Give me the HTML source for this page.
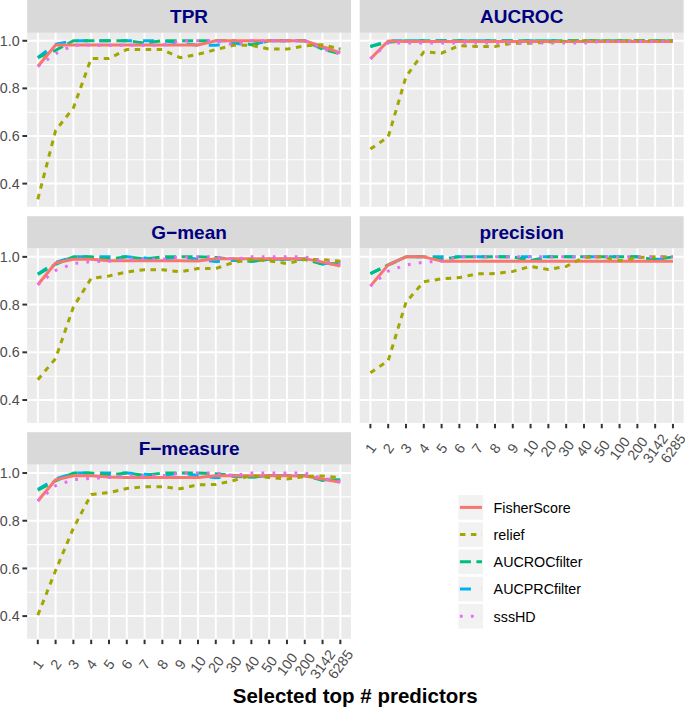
<!DOCTYPE html><html><head><meta charset="utf-8"><style>html,body{margin:0;padding:0;background:#fff;}svg{display:block;}text{font-family:"Liberation Sans",sans-serif;}</style></head><body>
<svg width="685" height="707" viewBox="0 0 685 707">
<rect x="0" y="0" width="685" height="707" fill="#fff"/>
<rect x="27.12" y="0.00" width="323.91" height="32.85" fill="#D9D9D9"/>
<text x="189.07" y="23.45" text-anchor="middle" font-weight="bold" font-size="19" fill="#000080">TPR</text>
<rect x="27.12" y="32.85" width="323.91" height="173.95" fill="#EBEBEB"/>
<line x1="27.12" x2="351.03" y1="159.79" y2="159.79" stroke="#fff" stroke-width="1.1"/>
<line x1="27.12" x2="351.03" y1="112.19" y2="112.19" stroke="#fff" stroke-width="1.1"/>
<line x1="27.12" x2="351.03" y1="64.57" y2="64.57" stroke="#fff" stroke-width="1.1"/>
<line x1="27.12" x2="351.03" y1="183.60" y2="183.60" stroke="#fff" stroke-width="2"/>
<line x1="27.12" x2="351.03" y1="135.99" y2="135.99" stroke="#fff" stroke-width="2"/>
<line x1="27.12" x2="351.03" y1="88.38" y2="88.38" stroke="#fff" stroke-width="2"/>
<line x1="27.12" x2="351.03" y1="40.77" y2="40.77" stroke="#fff" stroke-width="2"/>
<line x1="37.80" x2="37.80" y1="32.85" y2="206.80" stroke="#fff" stroke-width="1.9"/>
<line x1="55.60" x2="55.60" y1="32.85" y2="206.80" stroke="#fff" stroke-width="1.9"/>
<line x1="73.39" x2="73.39" y1="32.85" y2="206.80" stroke="#fff" stroke-width="1.9"/>
<line x1="91.19" x2="91.19" y1="32.85" y2="206.80" stroke="#fff" stroke-width="1.9"/>
<line x1="108.99" x2="108.99" y1="32.85" y2="206.80" stroke="#fff" stroke-width="1.9"/>
<line x1="126.78" x2="126.78" y1="32.85" y2="206.80" stroke="#fff" stroke-width="1.9"/>
<line x1="144.58" x2="144.58" y1="32.85" y2="206.80" stroke="#fff" stroke-width="1.9"/>
<line x1="162.38" x2="162.38" y1="32.85" y2="206.80" stroke="#fff" stroke-width="1.9"/>
<line x1="180.18" x2="180.18" y1="32.85" y2="206.80" stroke="#fff" stroke-width="1.9"/>
<line x1="197.97" x2="197.97" y1="32.85" y2="206.80" stroke="#fff" stroke-width="1.9"/>
<line x1="215.77" x2="215.77" y1="32.85" y2="206.80" stroke="#fff" stroke-width="1.9"/>
<line x1="233.57" x2="233.57" y1="32.85" y2="206.80" stroke="#fff" stroke-width="1.9"/>
<line x1="251.37" x2="251.37" y1="32.85" y2="206.80" stroke="#fff" stroke-width="1.9"/>
<line x1="269.16" x2="269.16" y1="32.85" y2="206.80" stroke="#fff" stroke-width="1.9"/>
<line x1="286.96" x2="286.96" y1="32.85" y2="206.80" stroke="#fff" stroke-width="1.9"/>
<line x1="304.76" x2="304.76" y1="32.85" y2="206.80" stroke="#fff" stroke-width="1.9"/>
<line x1="322.55" x2="322.55" y1="32.85" y2="206.80" stroke="#fff" stroke-width="1.9"/>
<line x1="340.35" x2="340.35" y1="32.85" y2="206.80" stroke="#fff" stroke-width="1.9"/>
<g fill="none" stroke-width="3.0" stroke-linejoin="round" stroke-linecap="butt">
<polyline points="37.80,57.43 55.60,44.10 73.39,40.77 91.19,40.77 108.99,40.77 126.78,40.77 144.58,40.77 162.38,40.77 180.18,43.15 197.97,45.29 215.77,45.29 233.57,43.15 251.37,44.82 269.16,40.77 286.96,40.77 304.76,40.77 322.55,47.91 340.35,49.10" stroke="#00B0F6" stroke-dasharray="11 11"/>
<polyline points="37.80,57.67 55.60,50.29 73.39,40.77 91.19,40.77 108.99,40.77 126.78,40.77 144.58,43.15 162.38,40.77 180.18,40.77 197.97,40.77 215.77,40.77 233.57,40.77 251.37,44.82 269.16,40.77 286.96,40.77 304.76,40.77 322.55,49.10 340.35,53.86" stroke="#00BF7D" stroke-dasharray="11 5.5"/>
<polyline points="37.80,66.48 55.60,45.05 73.39,45.05 91.19,45.05 108.99,45.05 126.78,45.05 144.58,45.05 162.38,45.05 180.18,45.05 197.97,45.05 215.77,40.77 233.57,40.77 251.37,40.77 269.16,40.77 286.96,40.77 304.76,40.77 322.55,46.72 340.35,52.91" stroke="#F8766D"/>
<polyline points="37.80,199.31 55.60,130.51 73.39,107.90 91.19,58.39 108.99,58.39 126.78,49.58 144.58,49.58 162.38,49.58 180.18,57.67 197.97,54.34 215.77,49.58 233.57,45.29 251.37,45.29 269.16,49.10 286.96,49.10 304.76,45.77 322.55,44.82 340.35,49.10" stroke="#A3A500" stroke-dasharray="5.5 5.5"/>
<polyline points="37.80,66.48 55.60,53.62 73.39,45.29 91.19,45.29 108.99,45.29 126.78,45.29 144.58,45.29 162.38,45.29 180.18,40.77 197.97,40.77 215.77,40.77 233.57,44.82 251.37,40.77 269.16,40.77 286.96,40.77 304.76,40.77 322.55,49.10 340.35,53.39" stroke="#E76BF3" stroke-dasharray="2.75 8.25"/>
</g>
<line x1="22.4" x2="27.12" y1="183.60" y2="183.60" stroke="#333" stroke-width="2"/>
<text x="19.6" y="188.70" text-anchor="end" font-size="14.3" fill="#4D4D4D">0.4</text>
<line x1="22.4" x2="27.12" y1="135.99" y2="135.99" stroke="#333" stroke-width="2"/>
<text x="19.6" y="141.09" text-anchor="end" font-size="14.3" fill="#4D4D4D">0.6</text>
<line x1="22.4" x2="27.12" y1="88.38" y2="88.38" stroke="#333" stroke-width="2"/>
<text x="19.6" y="93.48" text-anchor="end" font-size="14.3" fill="#4D4D4D">0.8</text>
<line x1="22.4" x2="27.12" y1="40.77" y2="40.77" stroke="#333" stroke-width="2"/>
<text x="19.6" y="45.87" text-anchor="end" font-size="14.3" fill="#4D4D4D">1.0</text>
<rect x="359.72" y="0.00" width="323.91" height="32.85" fill="#D9D9D9"/>
<text x="521.67" y="23.45" text-anchor="middle" font-weight="bold" font-size="19" fill="#000080">AUCROC</text>
<rect x="359.72" y="32.85" width="323.91" height="173.95" fill="#EBEBEB"/>
<line x1="359.72" x2="683.63" y1="159.79" y2="159.79" stroke="#fff" stroke-width="1.1"/>
<line x1="359.72" x2="683.63" y1="112.19" y2="112.19" stroke="#fff" stroke-width="1.1"/>
<line x1="359.72" x2="683.63" y1="64.57" y2="64.57" stroke="#fff" stroke-width="1.1"/>
<line x1="359.72" x2="683.63" y1="183.60" y2="183.60" stroke="#fff" stroke-width="2"/>
<line x1="359.72" x2="683.63" y1="135.99" y2="135.99" stroke="#fff" stroke-width="2"/>
<line x1="359.72" x2="683.63" y1="88.38" y2="88.38" stroke="#fff" stroke-width="2"/>
<line x1="359.72" x2="683.63" y1="40.77" y2="40.77" stroke="#fff" stroke-width="2"/>
<line x1="370.40" x2="370.40" y1="32.85" y2="206.80" stroke="#fff" stroke-width="1.9"/>
<line x1="388.20" x2="388.20" y1="32.85" y2="206.80" stroke="#fff" stroke-width="1.9"/>
<line x1="405.99" x2="405.99" y1="32.85" y2="206.80" stroke="#fff" stroke-width="1.9"/>
<line x1="423.79" x2="423.79" y1="32.85" y2="206.80" stroke="#fff" stroke-width="1.9"/>
<line x1="441.59" x2="441.59" y1="32.85" y2="206.80" stroke="#fff" stroke-width="1.9"/>
<line x1="459.38" x2="459.38" y1="32.85" y2="206.80" stroke="#fff" stroke-width="1.9"/>
<line x1="477.18" x2="477.18" y1="32.85" y2="206.80" stroke="#fff" stroke-width="1.9"/>
<line x1="494.98" x2="494.98" y1="32.85" y2="206.80" stroke="#fff" stroke-width="1.9"/>
<line x1="512.78" x2="512.78" y1="32.85" y2="206.80" stroke="#fff" stroke-width="1.9"/>
<line x1="530.57" x2="530.57" y1="32.85" y2="206.80" stroke="#fff" stroke-width="1.9"/>
<line x1="548.37" x2="548.37" y1="32.85" y2="206.80" stroke="#fff" stroke-width="1.9"/>
<line x1="566.17" x2="566.17" y1="32.85" y2="206.80" stroke="#fff" stroke-width="1.9"/>
<line x1="583.97" x2="583.97" y1="32.85" y2="206.80" stroke="#fff" stroke-width="1.9"/>
<line x1="601.76" x2="601.76" y1="32.85" y2="206.80" stroke="#fff" stroke-width="1.9"/>
<line x1="619.56" x2="619.56" y1="32.85" y2="206.80" stroke="#fff" stroke-width="1.9"/>
<line x1="637.36" x2="637.36" y1="32.85" y2="206.80" stroke="#fff" stroke-width="1.9"/>
<line x1="655.15" x2="655.15" y1="32.85" y2="206.80" stroke="#fff" stroke-width="1.9"/>
<line x1="672.95" x2="672.95" y1="32.85" y2="206.80" stroke="#fff" stroke-width="1.9"/>
<g fill="none" stroke-width="3.0" stroke-linejoin="round" stroke-linecap="butt">
<polyline points="370.40,46.48 388.20,40.77 405.99,40.77 423.79,40.77 441.59,40.77 459.38,40.77 477.18,40.77 494.98,40.77 512.78,40.77 530.57,40.77 548.37,40.77 566.17,40.77 583.97,40.77 601.76,40.77 619.56,40.77 637.36,40.77 655.15,40.77 672.95,40.77" stroke="#00B0F6" stroke-dasharray="11 11"/>
<polyline points="370.40,46.48 388.20,42.20 405.99,40.77 423.79,40.77 441.59,40.77 459.38,40.77 477.18,40.77 494.98,40.77 512.78,40.77 530.57,40.77 548.37,40.77 566.17,40.77 583.97,40.77 601.76,40.77 619.56,40.77 637.36,40.77 655.15,40.77 672.95,40.77" stroke="#00BF7D" stroke-dasharray="11 5.5"/>
<polyline points="370.40,58.86 388.20,41.01 405.99,41.48 423.79,41.48 441.59,41.48 459.38,41.48 477.18,41.48 494.98,41.48 512.78,41.48 530.57,41.48 548.37,41.48 566.17,41.48 583.97,41.48 601.76,41.48 619.56,41.48 637.36,41.48 655.15,41.48 672.95,41.48" stroke="#F8766D"/>
<polyline points="370.40,149.08 388.20,136.94 405.99,76.72 423.79,51.96 441.59,53.15 459.38,45.53 477.18,46.48 494.98,46.48 512.78,43.15 530.57,43.15 548.37,41.96 566.17,41.25 583.97,40.77 601.76,40.77 619.56,40.77 637.36,40.77 655.15,40.77 672.95,40.77" stroke="#A3A500" stroke-dasharray="5.5 5.5"/>
<polyline points="370.40,58.86 388.20,42.91 405.99,42.91 423.79,42.91 441.59,42.91 459.38,42.91 477.18,42.91 494.98,42.91 512.78,42.91 530.57,42.91 548.37,42.91 566.17,42.91 583.97,42.91 601.76,41.48 619.56,41.48 637.36,41.48 655.15,41.48 672.95,41.48" stroke="#E76BF3" stroke-dasharray="2.75 8.25"/>
</g>
<rect x="27.12" y="216.20" width="323.91" height="32.34" fill="#D9D9D9"/>
<text x="189.07" y="239.14" text-anchor="middle" font-weight="bold" font-size="19" fill="#000080">G−mean</text>
<rect x="27.12" y="248.54" width="323.91" height="174.36" fill="#EBEBEB"/>
<line x1="27.12" x2="351.03" y1="376.18" y2="376.18" stroke="#fff" stroke-width="1.1"/>
<line x1="27.12" x2="351.03" y1="328.45" y2="328.45" stroke="#fff" stroke-width="1.1"/>
<line x1="27.12" x2="351.03" y1="280.72" y2="280.72" stroke="#fff" stroke-width="1.1"/>
<line x1="27.12" x2="351.03" y1="400.04" y2="400.04" stroke="#fff" stroke-width="2"/>
<line x1="27.12" x2="351.03" y1="352.31" y2="352.31" stroke="#fff" stroke-width="2"/>
<line x1="27.12" x2="351.03" y1="304.59" y2="304.59" stroke="#fff" stroke-width="2"/>
<line x1="27.12" x2="351.03" y1="256.86" y2="256.86" stroke="#fff" stroke-width="2"/>
<line x1="37.80" x2="37.80" y1="248.54" y2="422.90" stroke="#fff" stroke-width="1.9"/>
<line x1="55.60" x2="55.60" y1="248.54" y2="422.90" stroke="#fff" stroke-width="1.9"/>
<line x1="73.39" x2="73.39" y1="248.54" y2="422.90" stroke="#fff" stroke-width="1.9"/>
<line x1="91.19" x2="91.19" y1="248.54" y2="422.90" stroke="#fff" stroke-width="1.9"/>
<line x1="108.99" x2="108.99" y1="248.54" y2="422.90" stroke="#fff" stroke-width="1.9"/>
<line x1="126.78" x2="126.78" y1="248.54" y2="422.90" stroke="#fff" stroke-width="1.9"/>
<line x1="144.58" x2="144.58" y1="248.54" y2="422.90" stroke="#fff" stroke-width="1.9"/>
<line x1="162.38" x2="162.38" y1="248.54" y2="422.90" stroke="#fff" stroke-width="1.9"/>
<line x1="180.18" x2="180.18" y1="248.54" y2="422.90" stroke="#fff" stroke-width="1.9"/>
<line x1="197.97" x2="197.97" y1="248.54" y2="422.90" stroke="#fff" stroke-width="1.9"/>
<line x1="215.77" x2="215.77" y1="248.54" y2="422.90" stroke="#fff" stroke-width="1.9"/>
<line x1="233.57" x2="233.57" y1="248.54" y2="422.90" stroke="#fff" stroke-width="1.9"/>
<line x1="251.37" x2="251.37" y1="248.54" y2="422.90" stroke="#fff" stroke-width="1.9"/>
<line x1="269.16" x2="269.16" y1="248.54" y2="422.90" stroke="#fff" stroke-width="1.9"/>
<line x1="286.96" x2="286.96" y1="248.54" y2="422.90" stroke="#fff" stroke-width="1.9"/>
<line x1="304.76" x2="304.76" y1="248.54" y2="422.90" stroke="#fff" stroke-width="1.9"/>
<line x1="322.55" x2="322.55" y1="248.54" y2="422.90" stroke="#fff" stroke-width="1.9"/>
<line x1="340.35" x2="340.35" y1="248.54" y2="422.90" stroke="#fff" stroke-width="1.9"/>
<g fill="none" stroke-width="3.0" stroke-linejoin="round" stroke-linecap="butt">
<polyline points="37.80,274.04 55.60,262.35 73.39,256.86 91.19,256.86 108.99,256.86 126.78,256.86 144.58,258.05 162.38,259.25 180.18,256.86 197.97,259.25 215.77,261.63 233.57,260.20 251.37,261.16 269.16,259.25 286.96,259.25 304.76,259.25 322.55,264.02 340.35,261.16" stroke="#00B0F6" stroke-dasharray="11 11"/>
<polyline points="37.80,274.52 55.60,264.26 73.39,256.86 91.19,256.86 108.99,259.01 126.78,256.86 144.58,259.01 162.38,256.86 180.18,256.86 197.97,256.86 215.77,257.58 233.57,259.25 251.37,261.39 269.16,259.25 286.96,259.25 304.76,259.25 322.55,264.02 340.35,263.54" stroke="#00BF7D" stroke-dasharray="11 5.5"/>
<polyline points="37.80,284.78 55.60,263.06 73.39,259.25 91.19,259.25 108.99,260.68 126.78,260.68 144.58,260.68 162.38,260.68 180.18,260.68 197.97,260.92 215.77,258.65 233.57,258.65 251.37,258.65 269.16,258.65 286.96,258.65 304.76,258.65 322.55,262.11 340.35,265.93" stroke="#F8766D"/>
<polyline points="37.80,379.76 55.60,358.52 73.39,306.97 91.19,278.34 108.99,275.95 126.78,271.89 144.58,269.75 162.38,269.75 180.18,271.89 197.97,268.55 215.77,268.55 233.57,262.35 251.37,259.48 269.16,260.92 286.96,263.54 304.76,259.48 322.55,259.48 340.35,261.16" stroke="#A3A500" stroke-dasharray="5.5 5.5"/>
<polyline points="37.80,284.78 55.60,270.46 73.39,263.54 91.19,261.63 108.99,261.16 126.78,259.25 144.58,259.25 162.38,259.25 180.18,256.86 197.97,256.86 215.77,256.86 233.57,259.25 251.37,256.86 269.16,256.86 286.96,256.86 304.76,256.86 322.55,261.39 340.35,264.02" stroke="#E76BF3" stroke-dasharray="2.75 8.25"/>
</g>
<line x1="22.4" x2="27.12" y1="400.04" y2="400.04" stroke="#333" stroke-width="2"/>
<text x="19.6" y="405.14" text-anchor="end" font-size="14.3" fill="#4D4D4D">0.4</text>
<line x1="22.4" x2="27.12" y1="352.31" y2="352.31" stroke="#333" stroke-width="2"/>
<text x="19.6" y="357.41" text-anchor="end" font-size="14.3" fill="#4D4D4D">0.6</text>
<line x1="22.4" x2="27.12" y1="304.59" y2="304.59" stroke="#333" stroke-width="2"/>
<text x="19.6" y="309.69" text-anchor="end" font-size="14.3" fill="#4D4D4D">0.8</text>
<line x1="22.4" x2="27.12" y1="256.86" y2="256.86" stroke="#333" stroke-width="2"/>
<text x="19.6" y="261.96" text-anchor="end" font-size="14.3" fill="#4D4D4D">1.0</text>
<rect x="359.72" y="216.20" width="323.91" height="32.34" fill="#D9D9D9"/>
<text x="521.67" y="239.14" text-anchor="middle" font-weight="bold" font-size="19" fill="#000080">precision</text>
<rect x="359.72" y="248.54" width="323.91" height="174.36" fill="#EBEBEB"/>
<line x1="359.72" x2="683.63" y1="376.18" y2="376.18" stroke="#fff" stroke-width="1.1"/>
<line x1="359.72" x2="683.63" y1="328.45" y2="328.45" stroke="#fff" stroke-width="1.1"/>
<line x1="359.72" x2="683.63" y1="280.72" y2="280.72" stroke="#fff" stroke-width="1.1"/>
<line x1="359.72" x2="683.63" y1="400.04" y2="400.04" stroke="#fff" stroke-width="2"/>
<line x1="359.72" x2="683.63" y1="352.31" y2="352.31" stroke="#fff" stroke-width="2"/>
<line x1="359.72" x2="683.63" y1="304.59" y2="304.59" stroke="#fff" stroke-width="2"/>
<line x1="359.72" x2="683.63" y1="256.86" y2="256.86" stroke="#fff" stroke-width="2"/>
<line x1="370.40" x2="370.40" y1="248.54" y2="422.90" stroke="#fff" stroke-width="1.9"/>
<line x1="388.20" x2="388.20" y1="248.54" y2="422.90" stroke="#fff" stroke-width="1.9"/>
<line x1="405.99" x2="405.99" y1="248.54" y2="422.90" stroke="#fff" stroke-width="1.9"/>
<line x1="423.79" x2="423.79" y1="248.54" y2="422.90" stroke="#fff" stroke-width="1.9"/>
<line x1="441.59" x2="441.59" y1="248.54" y2="422.90" stroke="#fff" stroke-width="1.9"/>
<line x1="459.38" x2="459.38" y1="248.54" y2="422.90" stroke="#fff" stroke-width="1.9"/>
<line x1="477.18" x2="477.18" y1="248.54" y2="422.90" stroke="#fff" stroke-width="1.9"/>
<line x1="494.98" x2="494.98" y1="248.54" y2="422.90" stroke="#fff" stroke-width="1.9"/>
<line x1="512.78" x2="512.78" y1="248.54" y2="422.90" stroke="#fff" stroke-width="1.9"/>
<line x1="530.57" x2="530.57" y1="248.54" y2="422.90" stroke="#fff" stroke-width="1.9"/>
<line x1="548.37" x2="548.37" y1="248.54" y2="422.90" stroke="#fff" stroke-width="1.9"/>
<line x1="566.17" x2="566.17" y1="248.54" y2="422.90" stroke="#fff" stroke-width="1.9"/>
<line x1="583.97" x2="583.97" y1="248.54" y2="422.90" stroke="#fff" stroke-width="1.9"/>
<line x1="601.76" x2="601.76" y1="248.54" y2="422.90" stroke="#fff" stroke-width="1.9"/>
<line x1="619.56" x2="619.56" y1="248.54" y2="422.90" stroke="#fff" stroke-width="1.9"/>
<line x1="637.36" x2="637.36" y1="248.54" y2="422.90" stroke="#fff" stroke-width="1.9"/>
<line x1="655.15" x2="655.15" y1="248.54" y2="422.90" stroke="#fff" stroke-width="1.9"/>
<line x1="672.95" x2="672.95" y1="248.54" y2="422.90" stroke="#fff" stroke-width="1.9"/>
<g fill="none" stroke-width="3.0" stroke-linejoin="round" stroke-linecap="butt">
<polyline points="370.40,273.56 388.20,264.97 405.99,256.86 423.79,256.86 441.59,256.86 459.38,256.86 477.18,256.86 494.98,256.86 512.78,256.86 530.57,256.86 548.37,256.86 566.17,256.86 583.97,256.86 601.76,256.86 619.56,256.86 637.36,256.86 655.15,259.25 672.95,259.25" stroke="#00B0F6" stroke-dasharray="11 11"/>
<polyline points="370.40,273.56 388.20,264.97 405.99,256.86 423.79,256.86 441.59,259.25 459.38,256.86 477.18,256.86 494.98,256.86 512.78,256.86 530.57,260.44 548.37,256.86 566.17,256.86 583.97,256.86 601.76,256.86 619.56,256.86 637.36,256.86 655.15,259.72 672.95,256.86" stroke="#00BF7D" stroke-dasharray="11 5.5"/>
<polyline points="370.40,286.09 388.20,264.85 405.99,256.86 423.79,256.86 441.59,261.16 459.38,261.16 477.18,261.16 494.98,261.16 512.78,261.16 530.57,261.16 548.37,261.16 566.17,261.16 583.97,261.16 601.76,261.16 619.56,261.16 637.36,261.16 655.15,261.16 672.95,261.16" stroke="#F8766D"/>
<polyline points="370.40,372.84 388.20,360.67 405.99,302.20 423.79,281.68 441.59,278.81 459.38,277.62 477.18,273.80 494.98,273.56 512.78,271.42 530.57,266.41 548.37,269.51 566.17,266.41 583.97,257.34 601.76,256.86 619.56,260.68 637.36,257.58 655.15,256.86 672.95,256.86" stroke="#A3A500" stroke-dasharray="5.5 5.5"/>
<polyline points="370.40,286.09 388.20,271.18 405.99,264.97 423.79,262.11 441.59,261.16 459.38,256.86 477.18,256.86 494.98,256.86 512.78,256.86 530.57,256.86 548.37,256.86 566.17,256.86 583.97,256.86 601.76,256.86 619.56,256.86 637.36,256.86 655.15,256.86 672.95,256.86" stroke="#E76BF3" stroke-dasharray="2.75 8.25"/>
</g>
<line x1="370.40" x2="370.40" y1="423.90" y2="428.30" stroke="#333" stroke-width="2"/>
<text transform="translate(370.40,448.35) rotate(-54)" y="5.08" text-anchor="middle" font-size="14.3" fill="#4D4D4D">1</text>
<line x1="388.20" x2="388.20" y1="423.90" y2="428.30" stroke="#333" stroke-width="2"/>
<text transform="translate(388.20,448.35) rotate(-54)" y="5.08" text-anchor="middle" font-size="14.3" fill="#4D4D4D">2</text>
<line x1="405.99" x2="405.99" y1="423.90" y2="428.30" stroke="#333" stroke-width="2"/>
<text transform="translate(405.99,448.35) rotate(-54)" y="5.08" text-anchor="middle" font-size="14.3" fill="#4D4D4D">3</text>
<line x1="423.79" x2="423.79" y1="423.90" y2="428.30" stroke="#333" stroke-width="2"/>
<text transform="translate(423.79,448.35) rotate(-54)" y="5.08" text-anchor="middle" font-size="14.3" fill="#4D4D4D">4</text>
<line x1="441.59" x2="441.59" y1="423.90" y2="428.30" stroke="#333" stroke-width="2"/>
<text transform="translate(441.59,448.35) rotate(-54)" y="5.08" text-anchor="middle" font-size="14.3" fill="#4D4D4D">5</text>
<line x1="459.38" x2="459.38" y1="423.90" y2="428.30" stroke="#333" stroke-width="2"/>
<text transform="translate(459.38,448.35) rotate(-54)" y="5.08" text-anchor="middle" font-size="14.3" fill="#4D4D4D">6</text>
<line x1="477.18" x2="477.18" y1="423.90" y2="428.30" stroke="#333" stroke-width="2"/>
<text transform="translate(477.18,448.35) rotate(-54)" y="5.08" text-anchor="middle" font-size="14.3" fill="#4D4D4D">7</text>
<line x1="494.98" x2="494.98" y1="423.90" y2="428.30" stroke="#333" stroke-width="2"/>
<text transform="translate(494.98,448.35) rotate(-54)" y="5.08" text-anchor="middle" font-size="14.3" fill="#4D4D4D">8</text>
<line x1="512.78" x2="512.78" y1="423.90" y2="428.30" stroke="#333" stroke-width="2"/>
<text transform="translate(512.78,448.35) rotate(-54)" y="5.08" text-anchor="middle" font-size="14.3" fill="#4D4D4D">9</text>
<line x1="530.57" x2="530.57" y1="423.90" y2="428.30" stroke="#333" stroke-width="2"/>
<text transform="translate(530.57,448.35) rotate(-54)" y="5.08" text-anchor="middle" font-size="14.3" fill="#4D4D4D">10</text>
<line x1="548.37" x2="548.37" y1="423.90" y2="428.30" stroke="#333" stroke-width="2"/>
<text transform="translate(548.37,448.35) rotate(-54)" y="5.08" text-anchor="middle" font-size="14.3" fill="#4D4D4D">20</text>
<line x1="566.17" x2="566.17" y1="423.90" y2="428.30" stroke="#333" stroke-width="2"/>
<text transform="translate(566.17,448.35) rotate(-54)" y="5.08" text-anchor="middle" font-size="14.3" fill="#4D4D4D">30</text>
<line x1="583.97" x2="583.97" y1="423.90" y2="428.30" stroke="#333" stroke-width="2"/>
<text transform="translate(583.97,448.35) rotate(-54)" y="5.08" text-anchor="middle" font-size="14.3" fill="#4D4D4D">40</text>
<line x1="601.76" x2="601.76" y1="423.90" y2="428.30" stroke="#333" stroke-width="2"/>
<text transform="translate(601.76,448.35) rotate(-54)" y="5.08" text-anchor="middle" font-size="14.3" fill="#4D4D4D">50</text>
<line x1="619.56" x2="619.56" y1="423.90" y2="428.30" stroke="#333" stroke-width="2"/>
<text transform="translate(619.56,448.35) rotate(-54)" y="5.08" text-anchor="middle" font-size="14.3" fill="#4D4D4D">100</text>
<line x1="637.36" x2="637.36" y1="423.90" y2="428.30" stroke="#333" stroke-width="2"/>
<text transform="translate(637.36,448.35) rotate(-54)" y="5.08" text-anchor="middle" font-size="14.3" fill="#4D4D4D">200</text>
<line x1="655.15" x2="655.15" y1="423.90" y2="428.30" stroke="#333" stroke-width="2"/>
<text transform="translate(655.15,448.35) rotate(-54)" y="5.08" text-anchor="middle" font-size="14.3" fill="#4D4D4D">3142</text>
<line x1="672.95" x2="672.95" y1="423.90" y2="428.30" stroke="#333" stroke-width="2"/>
<text transform="translate(672.95,448.35) rotate(-54)" y="5.08" text-anchor="middle" font-size="14.3" fill="#4D4D4D">6285</text>
<rect x="27.12" y="432.20" width="323.91" height="32.50" fill="#D9D9D9"/>
<text x="189.07" y="455.30" text-anchor="middle" font-weight="bold" font-size="19" fill="#000080">F−measure</text>
<rect x="27.12" y="464.70" width="323.91" height="174.05" fill="#EBEBEB"/>
<line x1="27.12" x2="351.03" y1="592.26" y2="592.26" stroke="#fff" stroke-width="1.1"/>
<line x1="27.12" x2="351.03" y1="544.58" y2="544.58" stroke="#fff" stroke-width="1.1"/>
<line x1="27.12" x2="351.03" y1="496.89" y2="496.89" stroke="#fff" stroke-width="1.1"/>
<line x1="27.12" x2="351.03" y1="616.10" y2="616.10" stroke="#fff" stroke-width="2"/>
<line x1="27.12" x2="351.03" y1="568.42" y2="568.42" stroke="#fff" stroke-width="2"/>
<line x1="27.12" x2="351.03" y1="520.73" y2="520.73" stroke="#fff" stroke-width="2"/>
<line x1="27.12" x2="351.03" y1="473.05" y2="473.05" stroke="#fff" stroke-width="2"/>
<line x1="37.80" x2="37.80" y1="464.70" y2="638.75" stroke="#fff" stroke-width="1.9"/>
<line x1="55.60" x2="55.60" y1="464.70" y2="638.75" stroke="#fff" stroke-width="1.9"/>
<line x1="73.39" x2="73.39" y1="464.70" y2="638.75" stroke="#fff" stroke-width="1.9"/>
<line x1="91.19" x2="91.19" y1="464.70" y2="638.75" stroke="#fff" stroke-width="1.9"/>
<line x1="108.99" x2="108.99" y1="464.70" y2="638.75" stroke="#fff" stroke-width="1.9"/>
<line x1="126.78" x2="126.78" y1="464.70" y2="638.75" stroke="#fff" stroke-width="1.9"/>
<line x1="144.58" x2="144.58" y1="464.70" y2="638.75" stroke="#fff" stroke-width="1.9"/>
<line x1="162.38" x2="162.38" y1="464.70" y2="638.75" stroke="#fff" stroke-width="1.9"/>
<line x1="180.18" x2="180.18" y1="464.70" y2="638.75" stroke="#fff" stroke-width="1.9"/>
<line x1="197.97" x2="197.97" y1="464.70" y2="638.75" stroke="#fff" stroke-width="1.9"/>
<line x1="215.77" x2="215.77" y1="464.70" y2="638.75" stroke="#fff" stroke-width="1.9"/>
<line x1="233.57" x2="233.57" y1="464.70" y2="638.75" stroke="#fff" stroke-width="1.9"/>
<line x1="251.37" x2="251.37" y1="464.70" y2="638.75" stroke="#fff" stroke-width="1.9"/>
<line x1="269.16" x2="269.16" y1="464.70" y2="638.75" stroke="#fff" stroke-width="1.9"/>
<line x1="286.96" x2="286.96" y1="464.70" y2="638.75" stroke="#fff" stroke-width="1.9"/>
<line x1="304.76" x2="304.76" y1="464.70" y2="638.75" stroke="#fff" stroke-width="1.9"/>
<line x1="322.55" x2="322.55" y1="464.70" y2="638.75" stroke="#fff" stroke-width="1.9"/>
<line x1="340.35" x2="340.35" y1="464.70" y2="638.75" stroke="#fff" stroke-width="1.9"/>
<g fill="none" stroke-width="3.0" stroke-linejoin="round" stroke-linecap="butt">
<polyline points="37.80,489.26 55.60,479.01 73.39,473.05 91.19,473.05 108.99,473.05 126.78,473.05 144.58,474.24 162.38,475.43 180.18,473.05 197.97,475.43 215.77,477.82 233.57,476.39 251.37,477.34 269.16,475.43 286.96,475.43 304.76,475.43 322.55,480.20 340.35,477.58" stroke="#00B0F6" stroke-dasharray="11 11"/>
<polyline points="37.80,490.22 55.60,480.92 73.39,473.05 91.19,473.05 108.99,474.96 126.78,473.05 144.58,475.43 162.38,473.05 180.18,473.05 197.97,473.05 215.77,473.77 233.57,475.43 251.37,477.34 269.16,475.43 286.96,475.43 304.76,475.43 322.55,480.20 340.35,479.73" stroke="#00BF7D" stroke-dasharray="11 5.5"/>
<polyline points="37.80,500.94 55.60,479.73 73.39,475.67 91.19,475.67 108.99,477.10 126.78,477.58 144.58,477.58 162.38,477.58 180.18,477.58 197.97,477.58 215.77,475.67 233.57,475.67 251.37,475.67 269.16,475.67 286.96,475.67 304.76,475.91 322.55,479.01 340.35,482.35" stroke="#F8766D"/>
<polyline points="37.80,615.15 55.60,570.56 73.39,528.12 91.19,494.51 108.99,492.60 126.78,488.55 144.58,486.64 162.38,486.64 180.18,488.79 197.97,484.73 215.77,484.49 233.57,480.44 251.37,475.43 269.16,477.58 286.96,479.01 304.76,476.39 322.55,475.91 340.35,477.58" stroke="#A3A500" stroke-dasharray="5.5 5.5"/>
<polyline points="37.80,500.94 55.60,485.69 73.39,479.73 91.19,478.30 108.99,477.58 126.78,475.67 144.58,475.67 162.38,475.67 180.18,473.05 197.97,473.05 215.77,473.05 233.57,475.43 251.37,473.05 269.16,473.05 286.96,473.05 304.76,473.05 322.55,478.30 340.35,481.39" stroke="#E76BF3" stroke-dasharray="2.75 8.25"/>
</g>
<line x1="22.4" x2="27.12" y1="616.10" y2="616.10" stroke="#333" stroke-width="2"/>
<text x="19.6" y="621.20" text-anchor="end" font-size="14.3" fill="#4D4D4D">0.4</text>
<line x1="22.4" x2="27.12" y1="568.42" y2="568.42" stroke="#333" stroke-width="2"/>
<text x="19.6" y="573.52" text-anchor="end" font-size="14.3" fill="#4D4D4D">0.6</text>
<line x1="22.4" x2="27.12" y1="520.73" y2="520.73" stroke="#333" stroke-width="2"/>
<text x="19.6" y="525.83" text-anchor="end" font-size="14.3" fill="#4D4D4D">0.8</text>
<line x1="22.4" x2="27.12" y1="473.05" y2="473.05" stroke="#333" stroke-width="2"/>
<text x="19.6" y="478.15" text-anchor="end" font-size="14.3" fill="#4D4D4D">1.0</text>
<line x1="37.80" x2="37.80" y1="639.75" y2="644.15" stroke="#333" stroke-width="2"/>
<text transform="translate(37.80,664.20) rotate(-54)" y="5.08" text-anchor="middle" font-size="14.3" fill="#4D4D4D">1</text>
<line x1="55.60" x2="55.60" y1="639.75" y2="644.15" stroke="#333" stroke-width="2"/>
<text transform="translate(55.60,664.20) rotate(-54)" y="5.08" text-anchor="middle" font-size="14.3" fill="#4D4D4D">2</text>
<line x1="73.39" x2="73.39" y1="639.75" y2="644.15" stroke="#333" stroke-width="2"/>
<text transform="translate(73.39,664.20) rotate(-54)" y="5.08" text-anchor="middle" font-size="14.3" fill="#4D4D4D">3</text>
<line x1="91.19" x2="91.19" y1="639.75" y2="644.15" stroke="#333" stroke-width="2"/>
<text transform="translate(91.19,664.20) rotate(-54)" y="5.08" text-anchor="middle" font-size="14.3" fill="#4D4D4D">4</text>
<line x1="108.99" x2="108.99" y1="639.75" y2="644.15" stroke="#333" stroke-width="2"/>
<text transform="translate(108.99,664.20) rotate(-54)" y="5.08" text-anchor="middle" font-size="14.3" fill="#4D4D4D">5</text>
<line x1="126.78" x2="126.78" y1="639.75" y2="644.15" stroke="#333" stroke-width="2"/>
<text transform="translate(126.78,664.20) rotate(-54)" y="5.08" text-anchor="middle" font-size="14.3" fill="#4D4D4D">6</text>
<line x1="144.58" x2="144.58" y1="639.75" y2="644.15" stroke="#333" stroke-width="2"/>
<text transform="translate(144.58,664.20) rotate(-54)" y="5.08" text-anchor="middle" font-size="14.3" fill="#4D4D4D">7</text>
<line x1="162.38" x2="162.38" y1="639.75" y2="644.15" stroke="#333" stroke-width="2"/>
<text transform="translate(162.38,664.20) rotate(-54)" y="5.08" text-anchor="middle" font-size="14.3" fill="#4D4D4D">8</text>
<line x1="180.18" x2="180.18" y1="639.75" y2="644.15" stroke="#333" stroke-width="2"/>
<text transform="translate(180.18,664.20) rotate(-54)" y="5.08" text-anchor="middle" font-size="14.3" fill="#4D4D4D">9</text>
<line x1="197.97" x2="197.97" y1="639.75" y2="644.15" stroke="#333" stroke-width="2"/>
<text transform="translate(197.97,664.20) rotate(-54)" y="5.08" text-anchor="middle" font-size="14.3" fill="#4D4D4D">10</text>
<line x1="215.77" x2="215.77" y1="639.75" y2="644.15" stroke="#333" stroke-width="2"/>
<text transform="translate(215.77,664.20) rotate(-54)" y="5.08" text-anchor="middle" font-size="14.3" fill="#4D4D4D">20</text>
<line x1="233.57" x2="233.57" y1="639.75" y2="644.15" stroke="#333" stroke-width="2"/>
<text transform="translate(233.57,664.20) rotate(-54)" y="5.08" text-anchor="middle" font-size="14.3" fill="#4D4D4D">30</text>
<line x1="251.37" x2="251.37" y1="639.75" y2="644.15" stroke="#333" stroke-width="2"/>
<text transform="translate(251.37,664.20) rotate(-54)" y="5.08" text-anchor="middle" font-size="14.3" fill="#4D4D4D">40</text>
<line x1="269.16" x2="269.16" y1="639.75" y2="644.15" stroke="#333" stroke-width="2"/>
<text transform="translate(269.16,664.20) rotate(-54)" y="5.08" text-anchor="middle" font-size="14.3" fill="#4D4D4D">50</text>
<line x1="286.96" x2="286.96" y1="639.75" y2="644.15" stroke="#333" stroke-width="2"/>
<text transform="translate(286.96,664.20) rotate(-54)" y="5.08" text-anchor="middle" font-size="14.3" fill="#4D4D4D">100</text>
<line x1="304.76" x2="304.76" y1="639.75" y2="644.15" stroke="#333" stroke-width="2"/>
<text transform="translate(304.76,664.20) rotate(-54)" y="5.08" text-anchor="middle" font-size="14.3" fill="#4D4D4D">200</text>
<line x1="322.55" x2="322.55" y1="639.75" y2="644.15" stroke="#333" stroke-width="2"/>
<text transform="translate(322.55,664.20) rotate(-54)" y="5.08" text-anchor="middle" font-size="14.3" fill="#4D4D4D">3142</text>
<line x1="340.35" x2="340.35" y1="639.75" y2="644.15" stroke="#333" stroke-width="2"/>
<text transform="translate(340.35,664.20) rotate(-54)" y="5.08" text-anchor="middle" font-size="14.3" fill="#4D4D4D">6285</text>
<rect x="458.4" y="495.10" width="24.6" height="24.6" fill="#F2F2F2"/>
<line x1="459.9" x2="482.0" y1="507.40" y2="507.40" stroke="#F8766D" stroke-width="3.0"/>
<text x="493.6" y="512.70" font-size="14.3" fill="#000">FisherScore</text>
<rect x="458.4" y="522.30" width="24.6" height="24.6" fill="#F2F2F2"/>
<line x1="459.9" x2="482.0" y1="534.60" y2="534.60" stroke="#A3A500" stroke-width="3.0" stroke-dasharray="5.5 5.5"/>
<text x="493.6" y="539.90" font-size="14.3" fill="#000">relief</text>
<rect x="458.4" y="549.50" width="24.6" height="24.6" fill="#F2F2F2"/>
<line x1="459.9" x2="482.0" y1="561.80" y2="561.80" stroke="#00BF7D" stroke-width="3.0" stroke-dasharray="11 5.5"/>
<text x="493.6" y="567.10" font-size="14.3" fill="#000">AUCROCfilter</text>
<rect x="458.4" y="576.70" width="24.6" height="24.6" fill="#F2F2F2"/>
<line x1="459.9" x2="482.0" y1="589.00" y2="589.00" stroke="#00B0F6" stroke-width="3.0" stroke-dasharray="11 11"/>
<text x="493.6" y="594.30" font-size="14.3" fill="#000">AUCPRCfilter</text>
<rect x="458.4" y="603.90" width="24.6" height="24.6" fill="#F2F2F2"/>
<line x1="459.9" x2="482.0" y1="616.20" y2="616.20" stroke="#E76BF3" stroke-width="3.0" stroke-dasharray="2.75 8.25"/>
<text x="493.6" y="621.50" font-size="14.3" fill="#000">sssHD</text>
<text x="355.2" y="702.6" text-anchor="middle" font-weight="bold" font-size="20.5" fill="#000">Selected top # predictors</text>
</svg></body></html>
